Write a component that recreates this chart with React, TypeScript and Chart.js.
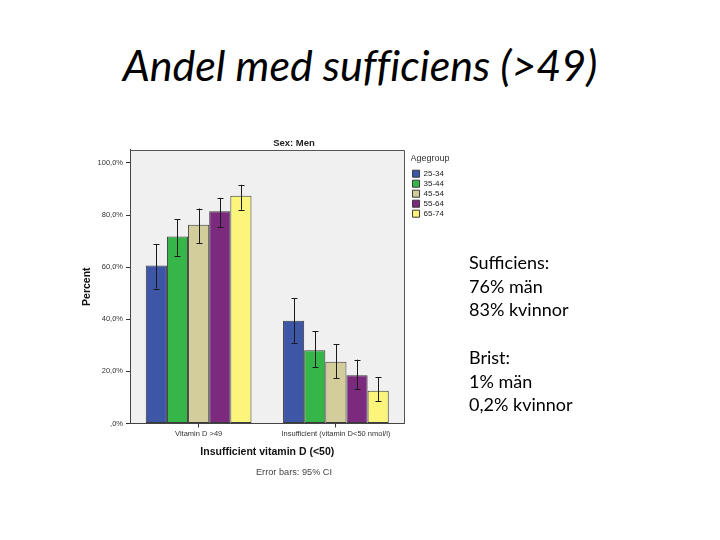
import { useEffect, useRef } from 'react';
import { Chart, registerables } from 'chart.js';

Chart.register(...registerables);

const categories = ['Vitamin D >49', 'Insufficient (vitamin D<50 nmol/l)'];
const ageGroups = ['25-34', '35-44', '45-54', '55-64', '65-74'];

const percent2534 = [60.6, 39.4];
const percent3544 = [71.8, 28.1];
const percent4554 = [76.3, 23.7];
const percent5564 = [81.5, 18.5];
const percent6574 = [87.4, 12.6];

const ciLow2534 = [51.7, 31.0];
const ciLow3544 = [64.4, 21.6];
const ciLow4554 = [69.2, 17.3];
const ciLow5564 = [75.3, 13.2];
const ciLow6574 = [82.0, 8.5];

const ciHigh2534 = [68.9, 48.1];
const ciHigh3544 = [78.3, 35.4];
const ciHigh4554 = [82.5, 30.5];
const ciHigh5564 = [86.6, 24.5];
const ciHigh6574 = [91.6, 17.7];

const barColors = ['#3d56a6', '#36b649', '#d3cc9b', '#7b2a7e', '#fbf57b'];

const seriesValues = [percent2534, percent3544, percent4554, percent5564, percent6574];
const seriesLow = [ciLow2534, ciLow3544, ciLow4554, ciLow5564, ciLow6574];
const seriesHigh = [ciHigh2534, ciHigh3544, ciHigh4554, ciHigh5564, ciHigh6574];

const formatPct = (v: number) => (v === 0 ? ',0%' : v.toFixed(1).replace('.', ',') + '%');

const framePlugin = {
  id: 'plotFrame',
  beforeDraw(chart: any) {
    const { ctx, chartArea: a } = chart;
    ctx.save();
    ctx.fillStyle = '#f0f0f0';
    ctx.fillRect(a.left, a.top, a.right - a.left, a.bottom - a.top);
    ctx.restore();
  },
  afterDraw(chart: any) {
    const { ctx, chartArea: a } = chart;
    ctx.save();
    ctx.strokeStyle = '#555';
    ctx.lineWidth = 1;
    ctx.beginPath();
    ctx.moveTo(Math.round(a.left) + 0.5, Math.round(a.top) + 0.5);
    ctx.lineTo(Math.round(a.right) - 0.5, Math.round(a.top) + 0.5);
    ctx.lineTo(Math.round(a.right) - 0.5, Math.round(a.bottom));
    ctx.stroke();
    ctx.restore();
  },
};

const errorBarPlugin = {
  id: 'errorBars',
  afterDatasetsDraw(chart: any) {
    const { ctx } = chart;
    const y = chart.scales.y;
    ctx.save();
    ctx.strokeStyle = '#1a1a1a';
    ctx.lineWidth = 1;
    chart.data.datasets.forEach((ds: any, i: number) => {
      const meta = chart.getDatasetMeta(i);
      meta.data.forEach((bar: any, j: number) => {
        const x = Math.round(bar.x) + 0.5;
        const top = y.getPixelForValue(ds.ciHigh[j]);
        const bottom = y.getPixelForValue(ds.ciLow[j]);
        ctx.beginPath();
        ctx.moveTo(x, top);
        ctx.lineTo(x, bottom);
        ctx.moveTo(x - 3, Math.round(top) + 0.5);
        ctx.lineTo(x + 3, Math.round(top) + 0.5);
        ctx.moveTo(x - 3, Math.round(bottom) + 0.5);
        ctx.lineTo(x + 3, Math.round(bottom) + 0.5);
        ctx.stroke();
      });
    });
    ctx.restore();
  },
};

function ChartBox() {
  const ref = useRef<HTMLCanvasElement | null>(null);
  useEffect(() => {
    if (!ref.current) return;
    Chart.defaults.font.family = '"Liberation Sans", Arial, sans-serif';
    const chart = new Chart(ref.current, {
      type: 'bar',
      data: {
        labels: categories,
        datasets: ageGroups.map((g, i) => ({
          label: g,
          data: seriesValues[i],
          ciLow: seriesLow[i],
          ciHigh: seriesHigh[i],
          backgroundColor: barColors[i],
          borderColor: '#3a3a3a',
          borderWidth: 1,
          borderSkipped: false,
          categoryPercentage: 0.77,
          barPercentage: 1.0,
        })) as any,
      },
      options: {
        responsive: false,
        animation: false,
        layout: { padding: 0 },
        plugins: {
          tooltip: { enabled: false },
          title: {
            display: true,
            text: 'Sex: Men',
            color: '#222',
            font: { size: 9.5, weight: 'bold' },
            padding: { top: 5.5, bottom: 1 },
          },
          subtitle: {
            display: true,
            position: 'bottom',
            text: 'Error bars: 95% CI',
            color: '#444',
            font: { size: 9.2 },
            padding: { top: 3.5, bottom: 4 },
          },
          legend: {
            display: true,
            position: 'right',
            align: 'start',
            fullSize: false,
            title: {
              display: true,
              text: 'Agegroup',
              position: 'start',
              color: '#333',
              font: { size: 9 },
              padding: { top: 4, bottom: 3 },
            },
            labels: {
              boxWidth: 7,
              boxHeight: 7,
              padding: 2,
              color: '#222',
              font: { size: 8 },
            },
          },
        },
        scales: {
          x: {
            grid: { display: true, drawOnChartArea: false, offset: false, tickLength: 4, color: '#333' },
            border: { display: true, color: '#444' },
            ticks: { font: { size: 7.5 }, color: '#333', padding: 2, maxRotation: 0, autoSkip: false },
            title: {
              display: true,
              text: 'Insufficient vitamin D (<50)',
              color: '#111',
              font: { size: 10.5, weight: 'bold' },
              padding: { top: 4, bottom: 5 },
            },
            afterFit: (s: any) => {
              s.height = 40;
            },
          },
          y: {
            min: 0,
            max: 105,
            ticks: {
              stepSize: 20,
              includeBounds: false,
              callback: (v: any) => formatPct(Number(v)),
              font: { size: 7.5 },
              color: '#333',
              padding: 3,
            },
            grid: { display: true, drawOnChartArea: false, tickLength: 4, color: '#333' },
            border: { display: true, color: '#444' },
            title: {
              display: true,
              text: 'Percent',
              color: '#111',
              font: { size: 10.5, weight: 'bold' },
              padding: { top: 3, bottom: 0 },
            },
            afterFit: (s: any) => {
              s.width = 52;
            },
          },
          gapR: {
            type: 'linear',
            position: 'right',
            display: true,
            grid: { display: false },
            border: { display: false },
            ticks: { display: false },
            afterFit: (s: any) => {
              s.width = 6;
            },
          },
          padR: {
            type: 'linear',
            position: 'right',
            weight: 2000,
            display: true,
            grid: { display: false },
            border: { display: false },
            ticks: { display: false },
            afterFit: (s: any) => {
              s.width = 56;
            },
          },
        } as any,
      },
      plugins: [framePlugin, errorBarPlugin],
    });
    return () => chart.destroy();
  }, []);
  return <canvas ref={ref} width={432} height={350} style={{ width: 432, height: 350, display: 'block' }} />;
}

export default function App() {
  return (
    <div
      style={{
        position: 'absolute',
        left: 0,
        top: 0,
        width: 720,
        height: 540,
        background: '#fff',
        overflow: 'hidden',
        fontFamily: 'Lato, "Open Sans", sans-serif',
        color: '#000',
      }}
    >
      <div
        style={{
          position: 'absolute',
          left: 0,
          top: 38.5,
          width: 720,
          textAlign: 'center',
          fontSize: 43,
          lineHeight: '52px',
          fontStyle: 'italic',
          fontVariantLigatures: 'none',
        }}
      >
        Andel med sufficiens (&gt;49)
      </div>
      <div style={{ position: 'absolute', left: 78, top: 132 }}>
        <ChartBox />
      </div>
      <div style={{ position: 'absolute', left: 469, top: 251, fontSize: 18, lineHeight: '23.7px' }}>
        <div>Sufficiens:</div>
        <div>76% män</div>
        <div>83% kvinnor</div>
        <div style={{ height: 23.7 }} />
        <div>Brist:</div>
        <div>1% män</div>
        <div>0,2% kvinnor</div>
      </div>
    </div>
  );
}
